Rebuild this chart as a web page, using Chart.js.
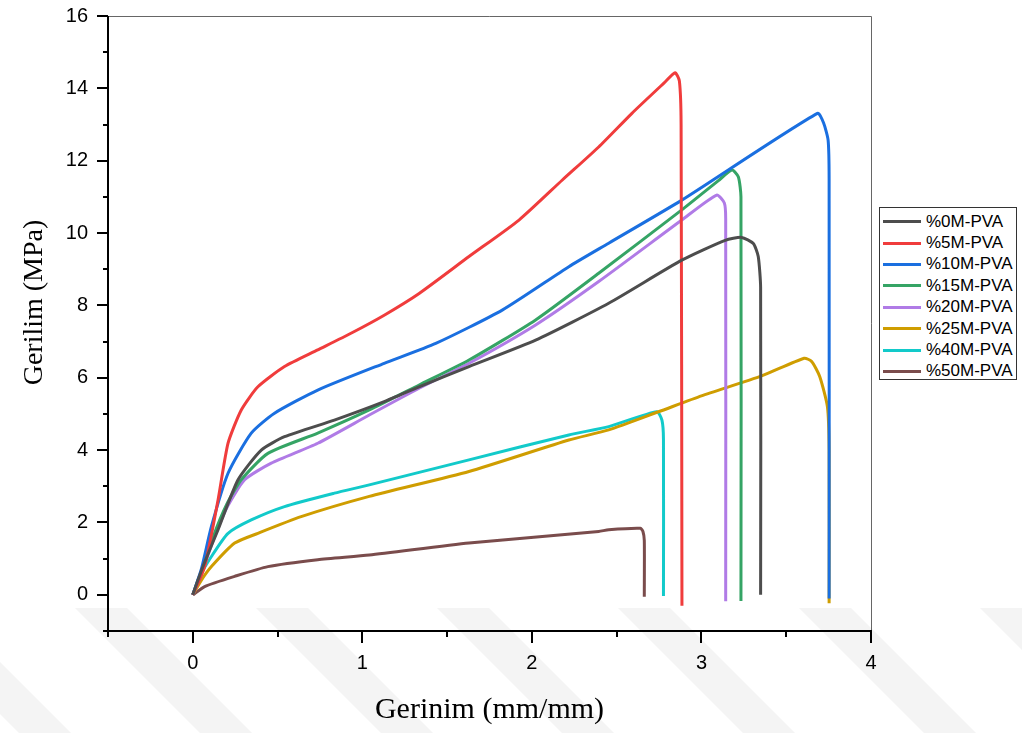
<!DOCTYPE html>
<html>
<head>
<meta charset="utf-8">
<script src="https://cdn.jsdelivr.net/npm/chart.js@4/dist/chart.umd.min.js"></script>
<style>
  body { margin: 0; background: #fff; }
  #wrap { position: relative; width: 1022px; height: 733px; }
  #legend {
    position: absolute; left: 879px; top: 207px; width: 138px; height: 173px;
    border: 1px solid #333; background: #fff; box-sizing: border-box;
    padding-top: 3px; font-family: "Liberation Sans", Arial, sans-serif; font-size: 17px;
  }
  #legend .row { display: flex; align-items: center; height: 21.4px; }
  #legend .sw { width: 38px; height: 3px; margin-left: 3px; margin-right: 5px; }
</style>
</head>
<body>
<div id="wrap">
  <canvas id="chart"></canvas>
  <div id="legend"></div>
</div>
<script>
// ----------------------------
// DATA
// ----------------------------
const labels = ["%0M-PVA", "%5M-PVA", "%10M-PVA", "%15M-PVA", "%20M-PVA", "%25M-PVA", "%40M-PVA", "%50M-PVA"];
const colors = ["#4d4d4d", "#f03c3c", "#1a6fe0", "#35a465", "#b07be6", "#cf9d00", "#12caca", "#7a4c4c"];

const x0M = [0, 0.03, 0.07, 0.149, 0.267, 0.404, 0.541, 0.835, 1.129, 1.335, 1.629, 2.022, 2.453, 2.884, 3.14, 3.237, 3.306, 3.335, 3.349, 3.349];
const y0M = [0, 0.4, 0.9, 1.80, 3.18, 4.0, 4.37, 4.83, 5.34, 5.75, 6.31, 7.04, 8.06, 9.25, 9.8, 9.88, 9.71, 9.35, 8.5, 0];

const x5M = [0, 0.07, 0.149, 0.208, 0.286, 0.384, 0.541, 0.737, 0.933, 1.129, 1.335, 1.629, 1.924, 2.178, 2.394, 2.59, 2.78, 2.845, 2.87, 2.88, 2.885];
const y5M = [0, 0.78, 2.62, 4.19, 5.11, 5.75, 6.31, 6.77, 7.23, 7.73, 8.33, 9.35, 10.36, 11.46, 12.38, 13.31, 14.15, 14.43, 14.2, 13.0, -0.3];

const x10M = [0, 0.05, 0.11, 0.208, 0.345, 0.482, 0.737, 1.129, 1.433, 1.825, 2.218, 2.453, 2.884, 3.684, 3.72, 3.747, 3.753, 3.753];
const y10M = [0, 0.7, 1.89, 3.36, 4.47, 5.02, 5.66, 6.40, 6.95, 7.87, 9.07, 9.72, 10.91, 13.31, 13.05, 12.57, 11.5, -0.1];

const x15M = [0, 0.05, 0.12, 0.2, 0.286, 0.443, 0.737, 1.041, 1.335, 1.629, 2.022, 2.394, 2.884, 3.1, 3.18, 3.218, 3.233, 3.233];
const y15M = [0, 0.6, 1.6, 2.5, 3.18, 3.91, 4.47, 5.11, 5.8, 6.49, 7.6, 8.89, 10.64, 11.45, 11.74, 11.55, 11.0, -0.17];

const x20M = [0, 0.05, 0.12, 0.2, 0.306, 0.463, 0.737, 1.041, 1.335, 1.629, 2.022, 2.394, 2.884, 3.09, 3.135, 3.143, 3.143];
const y20M = [0, 0.55, 1.5, 2.4, 3.18, 3.64, 4.19, 4.97, 5.71, 6.4, 7.46, 8.66, 10.36, 11.05, 10.83, 10.4, -0.18];

const x25M = [0, 0.05, 0.11, 0.247, 0.384, 0.639, 1.041, 1.629, 2.218, 2.453, 2.747, 3.0, 3.355, 3.606, 3.65, 3.698, 3.743, 3.753, 3.753];
const y25M = [0, 0.4, 0.78, 1.43, 1.70, 2.16, 2.72, 3.41, 4.28, 4.56, 5.06, 5.5, 6.05, 6.54, 6.45, 6.03, 5.2, 4.0, -0.23];

const x40M = [0, 0.04, 0.11, 0.208, 0.345, 0.541, 0.835, 1.041, 1.629, 2.218, 2.453, 2.737, 2.767, 2.776, 2.776];
const y40M = [0, 0.5, 1.06, 1.7, 2.07, 2.44, 2.81, 3.04, 3.73, 4.42, 4.65, 5.06, 4.83, 4.3, -0.03];

const x50M = [0, 0.07, 0.247, 0.443, 0.737, 1.041, 1.629, 2.394, 2.453, 2.64, 2.655, 2.663, 2.663];
const y50M = [0, 0.23, 0.51, 0.78, 0.97, 1.1, 1.43, 1.75, 1.8, 1.84, 1.75, 1.5, -0.05];

const xs = [x0M, x5M, x10M, x15M, x20M, x25M, x40M, x50M];
const ys = [y0M, y5M, y10M, y15M, y20M, y25M, y40M, y50M];

// y ticks: labels only on even values from 0 to 16
const yTickLabels = [0, 2, 4, 6, 8, 10, 12, 14, 16];
// x ticks: labels only on whole numbers
const xTickLabels = [0, 1, 2, 3, 4];

// ----------------------------
// BUILD DATASETS
// ----------------------------
const datasets = labels.map((name, i) => ({
    label: name,
    data: xs[i].map((x, j) => ({ x: x, y: ys[i][j] })),
    borderColor: colors[i],
    backgroundColor: colors[i],
    borderWidth: 3,
    pointRadius: 0,
    showLine: true,
    tension: 0.2
}));

// ----------------------------
// FAINT WATERMARK STRIPES (background decoration)
// ----------------------------
const stripesPlugin = {
    id: "stripes",
    beforeDraw(chart) {
        const ctx = chart.ctx;
        ctx.save();
        ctx.fillStyle = "#f4f4f4";
        for (let x0 = 75 - 181; x0 < 1022; x0 += 181) {
            ctx.beginPath();
            ctx.moveTo(x0, 608);
            ctx.lineTo(x0 + 52, 608);
            ctx.lineTo(x0 + 52 + 125, 733);
            ctx.lineTo(x0 + 125, 733);
            ctx.closePath();
            ctx.fill();
        }
        ctx.restore();
    }
};

// ----------------------------
// AXIS FRAME + TICK MARKS
// ----------------------------
const framePlugin = {
    id: "frame",
    afterDraw(chart) {
        const ctx = chart.ctx;
        const a = chart.chartArea;
        const xs_ = chart.scales.x;
        const ys_ = chart.scales.y;
        ctx.save();

        // top and right border, thin gray
        ctx.strokeStyle = "#666";
        ctx.lineWidth = 1;
        ctx.beginPath();
        ctx.moveTo(a.left, a.top + 0.5);
        ctx.lineTo(a.right + 0.5, a.top + 0.5);
        ctx.lineTo(a.right + 0.5, a.bottom);
        ctx.stroke();

        // left and bottom axes, black
        ctx.strokeStyle = "#000";
        ctx.lineWidth = 2;
        ctx.beginPath();
        ctx.moveTo(a.left, a.top);
        ctx.lineTo(a.left, a.bottom);
        ctx.lineTo(a.right + 1, a.bottom);
        ctx.stroke();

        // y ticks (outward, left)
        ys_.ticks.forEach(t => {
            const py = Math.round(ys_.getPixelForValue(t.value));
            const len = yTickLabels.includes(t.value) ? 11 : 5;
            ctx.beginPath();
            ctx.moveTo(a.left, py);
            ctx.lineTo(a.left - len, py);
            ctx.stroke();
        });

        // x ticks (outward, down)
        xs_.ticks.forEach(t => {
            const px = Math.round(xs_.getPixelForValue(t.value));
            const len = xTickLabels.includes(t.value) ? 12 : 6;
            ctx.beginPath();
            ctx.moveTo(px, a.bottom);
            ctx.lineTo(px, a.bottom + len);
            ctx.stroke();
        });
        ctx.restore();
    }
};

const ctx = document.getElementById("chart").getContext("2d");

new Chart(ctx, {
    type: "scatter",
    data: { datasets: datasets },
    options: {
        responsive: true,
        maintainAspectRatio: false,
        animation: false,
        layout: { padding: { top: 16, right: 151, left: 0, bottom: 0 } },
        plugins: {
            legend: { display: false },
            tooltip: { enabled: false }
        },
        scales: {
            x: {
                type: "linear",
                min: -0.5,
                max: 4,
                afterFit(scale) { scale.height = 102; },
                grid: { display: false, drawTicks: false },
                border: { display: false },
                ticks: {
                    stepSize: 0.5,
                    padding: 20,
                    color: "#000",
                    font: { family: "Liberation Sans", size: 20 },
                    maxRotation: 0,
                    autoSkip: false,
                    callback: v => xTickLabels.includes(v) ? String(v) : ""
                },
                title: {
                    display: true,
                    text: "Gerinim (mm/mm)",
                    color: "#000",
                    font: { family: "Liberation Serif", size: 30 },
                    padding: { bottom: 5 }
                }
            },
            y: {
                type: "linear",
                min: -1,
                max: 16,
                afterFit(scale) {
                    scale.width = 108;
                    scale.paddingTop = 0;
                    scale.paddingBottom = 0;
                },
                grid: { display: false, drawTicks: false },
                border: { display: false },
                ticks: {
                    stepSize: 1,
                    padding: 20,
                    color: "#000",
                    font: { family: "Liberation Sans", size: 20 },
                    autoSkip: false,
                    callback: v => yTickLabels.includes(v) ? String(v) : ""
                },
                title: {
                    display: true,
                    text: "      Gerilim (MPa)",
                    color: "#000",
                    font: { family: "Liberation Serif", size: 28 },
                    padding: { top: 18 }
                }
            }
        }
    },
    plugins: [stripesPlugin, framePlugin]
});

// ----------------------------
// LEGEND (HTML, from the same arrays)
// ----------------------------
const legend = document.getElementById("legend");
labels.forEach((name, i) => {
    const row = document.createElement("div");
    row.className = "row";
    const sw = document.createElement("span");
    sw.className = "sw";
    sw.style.background = colors[i];
    const tx = document.createElement("span");
    tx.textContent = name;
    row.appendChild(sw);
    row.appendChild(tx);
    legend.appendChild(row);
});
</script>
</body>
</html>
